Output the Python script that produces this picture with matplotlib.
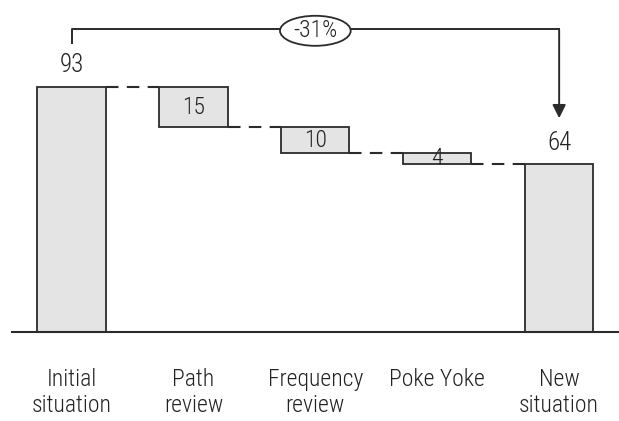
"""Waterfall of savings from the initial to the new situation."""

import matplotlib

matplotlib.use("Agg")
import matplotlib.pyplot as plt  # noqa: E402
from matplotlib.patches import Ellipse  # noqa: E402

CATEGORIES = ["Initial\nsituation", "Path\nreview", "Frequency\nreview", "Poke Yoke", "New\nsituation"]
START_VALUE = 93
REDUCTIONS = [15, 10, 4]
END_VALUE = 64
CHANGE_LABEL = "-31%"

FILL = "#e4e4e4"
EDGE = "#2b2b2b"
TEXT = "#222222"
BAR_WIDTH = 0.56
BRACKET_Y = 115

plt.rcParams["font.family"] = ["Roboto Condensed", "Liberation Sans", "DejaVu Sans"]
plt.rcParams["font.weight"] = "light"

fig = plt.figure(figsize=(6.19, 4.21), dpi=100)
ax = fig.add_axes([0, 0, 1, 1])
ax.set_xlim(-0.587, 4.491)
ax.set_ylim(-33.7, 126.2)
ax.axis("off")

# total bars
ax.bar([0, 4], [START_VALUE, END_VALUE], width=BAR_WIDTH, color=FILL, edgecolor=EDGE, linewidth=1.3)

# floating reduction bars
level = START_VALUE
levels = [START_VALUE]
for i, r in enumerate(REDUCTIONS, start=1):
    ax.bar(i, r, bottom=level - r, width=BAR_WIDTH, color=FILL, edgecolor=EDGE, linewidth=1.3)
    ax.text(i, level - r / 2, str(r), ha="center", va="center", fontsize=17, color=TEXT)
    level -= r
    levels.append(level)

# dashed connectors between neighbouring bars
for i, lv in enumerate(levels):
    ax.plot([i + BAR_WIDTH / 2, i + 1 - BAR_WIDTH / 2], [lv, lv], color=EDGE,
            linewidth=1.5, dashes=(6, 4))

ax.text(0, START_VALUE + 8.5, str(START_VALUE), ha="center", va="center", fontsize=18, color=TEXT)
ax.text(4, END_VALUE + 8, str(END_VALUE), ha="center", va="center", fontsize=18, color=TEXT)

# bracket with arrow showing the overall change
ax.plot([0, 0, 4], [START_VALUE + 16.8, BRACKET_Y, BRACKET_Y], color=EDGE, linewidth=1.4)
ax.annotate("", xy=(4, END_VALUE + 17.3), xytext=(4, BRACKET_Y),
            arrowprops=dict(arrowstyle="-|>", color=EDGE, lw=1.4, mutation_scale=20,
                            shrinkA=0, shrinkB=0))
ax.add_patch(Ellipse((2, BRACKET_Y - 0.5), 0.58, 11.4, facecolor="white", edgecolor=EDGE,
                     linewidth=1.3, zorder=3))
ax.text(2, BRACKET_Y - 0.5, CHANGE_LABEL, ha="center", va="center", fontsize=17,
        color=TEXT, zorder=4)

ax.axhline(0, xmin=12 / 619, xmax=1, color=EDGE, linewidth=1.5)

for i, cat in enumerate(CATEGORIES):
    ax.text(i, -13.5, cat, ha="center", va="top", fontsize=17, color=TEXT, linespacing=1.15)

fig.savefig("out.png", dpi=100)
